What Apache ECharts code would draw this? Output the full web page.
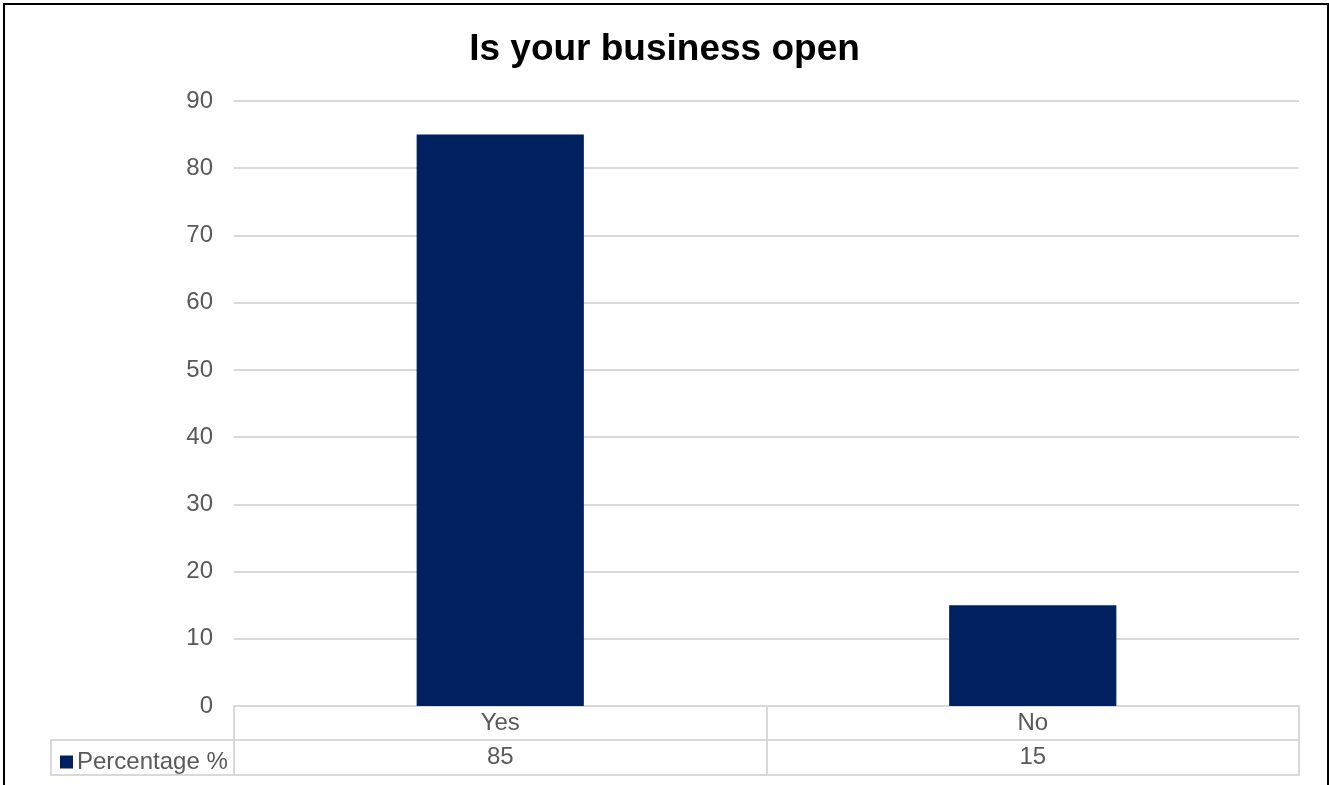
<!DOCTYPE html>
<html>
<head>
<meta charset="utf-8">
<script src="https://cdn.jsdelivr.net/npm/echarts@6/dist/echarts.min.js"></script>
<style>
html,body{margin:0;padding:0;background:#fff;}
#c{width:1329px;height:785px;}
</style>
</head>
<body>
<div id="c"></div>
<script>
const titleText = 'Is your business open';
const categories = ['Yes', 'No'];
const seriesName = 'Percentage %';
const values = [85, 15];
const yTicks = { min: 0, max: 90, interval: 10 };

const FONT = '"Liberation Sans", Arial, sans-serif';
const TXT = '#595959';
const GRIDC = '#d9d9d9';
const LW = 2;

const chart = echarts.init(document.getElementById('c'), null, { renderer: 'canvas' });
const option = {
  animation: false,
  backgroundColor: '#fff',
  title: {
    text: titleText,
    left: 'center',
    top: 26,
    textStyle: { fontFamily: FONT, fontSize: 37, fontWeight: 'bold', color: '#000' }
  },
  legend: {
    data: [seriesName],
    left: 55,
    top: 745,
    icon: 'rect',
    itemWidth: 13,
    itemHeight: 13,
    itemGap: 5,
    textStyle: { fontFamily: FONT, fontSize: 24, color: TXT, padding: [0,0,0,-1] }
  },
  grid: { left: 234, right: 30, top: 101, bottom: 79, containLabel: false },
  xAxis: [
    {
      type: 'category',
      data: categories,
      position: 'bottom',
      axisLine: { show: true, lineStyle: { color: GRIDC, width: LW } },
      axisTick: { show: true, length: 69, lineStyle: { color: GRIDC, width: LW } },
      axisLabel: { fontFamily: FONT, fontSize: 24, color: TXT, margin: 5 }
    },
    {
      type: 'category',
      data: values.map(String),
      position: 'bottom',
      offset: 34,
      axisLine: { show: true, lineStyle: { color: GRIDC, width: LW } },
      axisTick: { show: false },
      axisLabel: { fontFamily: FONT, fontSize: 24, color: TXT, margin: 5 }
    },
    {
      type: 'category',
      data: categories,
      position: 'bottom',
      offset: 69,
      axisLine: { show: true, lineStyle: { color: GRIDC, width: LW } },
      axisTick: { show: false },
      axisLabel: { show: false }
    }
  ],
  yAxis: {
    type: 'value',
    min: yTicks.min,
    max: yTicks.max,
    interval: yTicks.interval,
    axisLine: { show: false },
    axisTick: { show: false },
    splitLine: { lineStyle: { color: GRIDC, width: LW } },
    axisLabel: { fontFamily: FONT, fontSize: 24, color: TXT, margin: 21 }
  },
  series: [{
    name: seriesName,
    type: 'bar',
    data: values,
    barWidth: '31.4%',
    itemStyle: { color: '#002060' }
  }],
  graphic: [
    {
      type: 'polyline',
      shape: { points: [[234, 740], [51, 740], [51, 775], [234, 775]] },
      style: { stroke: GRIDC, lineWidth: LW, fill: null },
      silent: true
    },
    {
      type: 'rect',
      shape: { x: 4, y: 4, width: 1324, height: 810 },
      style: { stroke: '#000', lineWidth: 2, fill: null },
      silent: true
    }
  ]
};
chart.setOption(option);
</script>
</body>
</html>
